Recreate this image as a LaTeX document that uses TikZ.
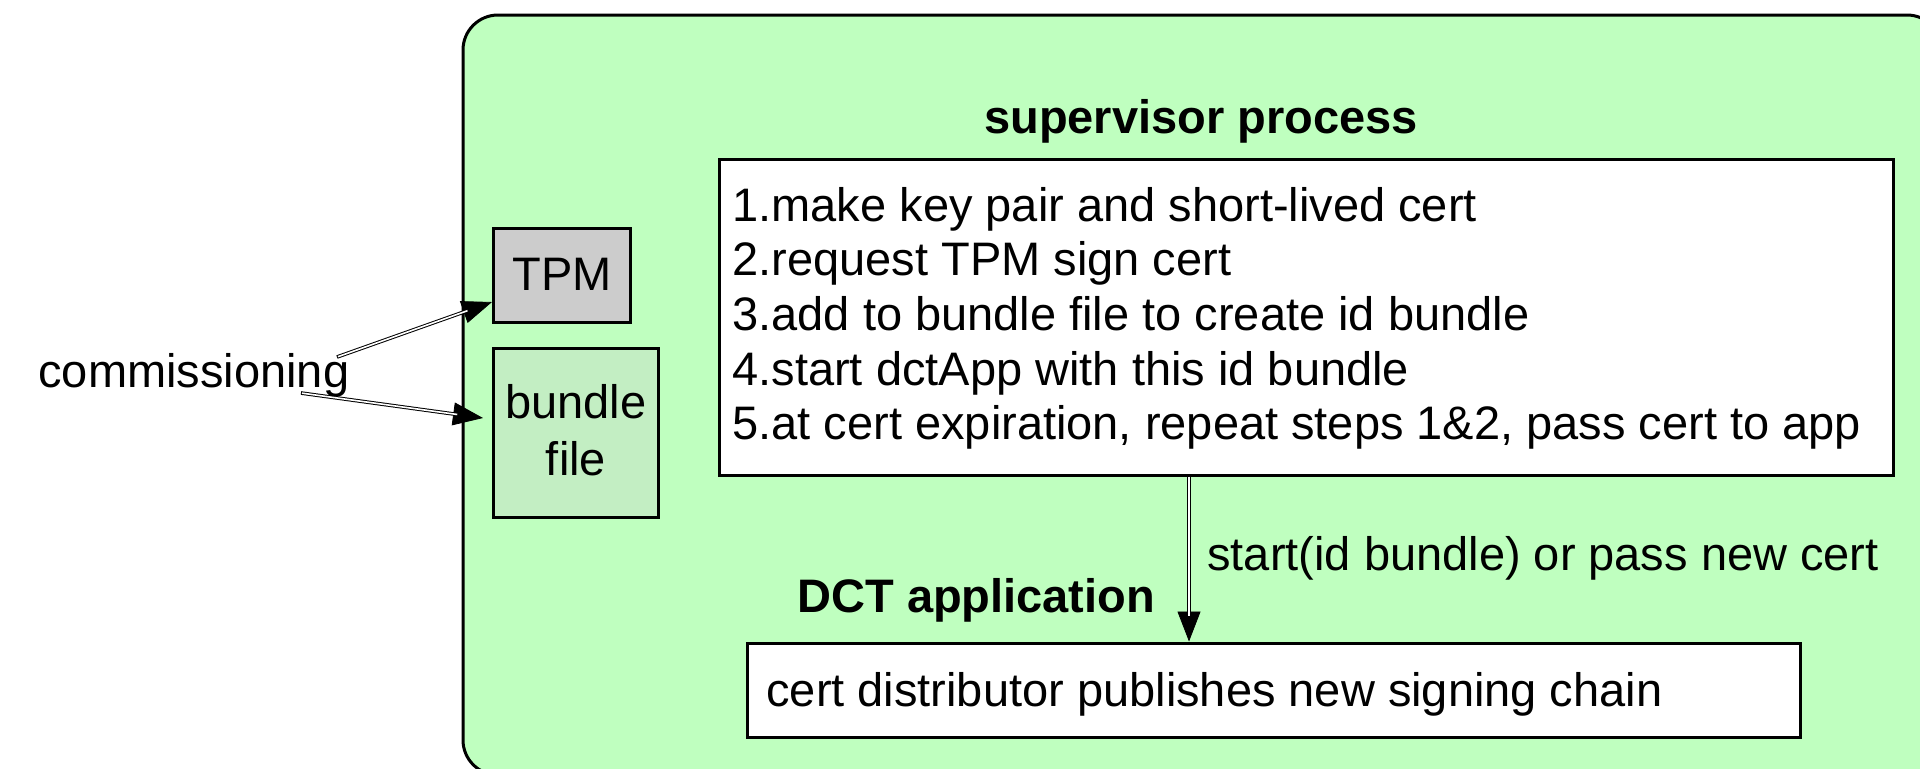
\documentclass[tikz,border=0pt]{standalone}
\usepackage{fontspec}
\setmainfont{Liberation Sans}
\usetikzlibrary{arrows.meta,fit}
\definecolor{panelgreen}{RGB}{191,255,191}
\definecolor{filegreen}{RGB}{195,238,195}
\definecolor{tpmgray}{RGB}{204,204,204}
\begin{document}
\begin{tikzpicture}[x=0.5pt,y=-0.5pt,
  txt/.style={inner sep=0pt, anchor=base west, font=\fontsize{23.5pt}{27.35pt}\selectfont},
  ctxt/.style={txt, anchor=base},
  ttl/.style={txt, font=\fontsize{23.5pt}{27.35pt}\selectfont\bfseries},
  box/.style={draw=black, line width=1.5pt, inner sep=0pt},
  panel/.style={box, fill=panelgreen, rounded corners=17.5pt},
  tipline/.style={line width=0.4pt, -{Triangle[length=15pt,width=11.5pt]}},
  shaftout/.style={line width=1.8pt, shorten >=13pt},
  shaftin/.style={white, line width=0.8pt, shorten >=13pt, shorten <=0.5pt}]
\useasboundingbox (0,0) rectangle (1920,768);
\clip (0,0) rectangle (1920,768);

% enclosing device panel
\node[panel, fit={(463,15) (1942,775)}] (panel) {};

% stores filled at commissioning
\node[box, fill=tpmgray, fit={(493,228) (630,322)}] (tpm) {};
\node[ctxt] (tpmtext) at (562,290) {TPM};
\node[box, fill=filegreen, fit={(493,348) (658,517)}] (bundle) {};
\node[ctxt] (bundletext1) at (576,418) {bundle};
\node[ctxt] (bundletext2) at (576,475) {file};

% supervisor process
\node[ttl, anchor=base] (suptitle) at (1201,133) {supervisor process};
\node[box, fill=white, fit={(719,159) (1893,475)}] (sup) {};
\node[txt] (step1) at (732,221.0) {1.make key pair and short-lived cert};
\node[txt] (step2) at (732,275.7) {2.request TPM sign cert};
\node[txt] (step3) at (732,330.4) {3.add to bundle file to create id bundle};
\node[txt] (step4) at (732,385.1) {4.start dctApp with this id bundle};
\node[txt] (step5) at (732,439.8) {5.at cert expiration, repeat steps 1\&2, pass cert to app};

% DCT application
\node[ttl] (dcttitle) at (797,612) {DCT application};
\node[box, fill=white, fit={(747,643) (1800,737)}] (dct) {};
\node[txt] (dcttext) at (766,706) {cert distributor publishes new signing chain};

% commissioning label and its arrows
\node[txt] (comm) at (38,387) {commissioning};
\coordinate (c1s) at (337,357);
\coordinate (c1e) at (492,302);
\coordinate (c2s) at (301,393);
\coordinate (c2e) at (483,418);
\foreach \s/\e in {c1s/c1e, c2s/c2e} {
  \draw[tipline] (\s) -- (\e);
  \draw[shaftout] (\s) -- (\e);
  \draw[shaftin] (\s) -- (\e);
}

% hand-over from supervisor to application
\coordinate (vx) at (1189,0);
\draw[tipline] (sup.south -| vx) -- (dct.north -| vx);
\draw[shaftout] (sup.south -| vx) -- (dct.north -| vx);
\draw[shaftin, shorten <=0pt] (sup.south -| vx) -- (dct.north -| vx);
\node[txt] (startlbl) at (1207,570) {start(id bundle) or pass new cert};
\end{tikzpicture}
\end{document}
